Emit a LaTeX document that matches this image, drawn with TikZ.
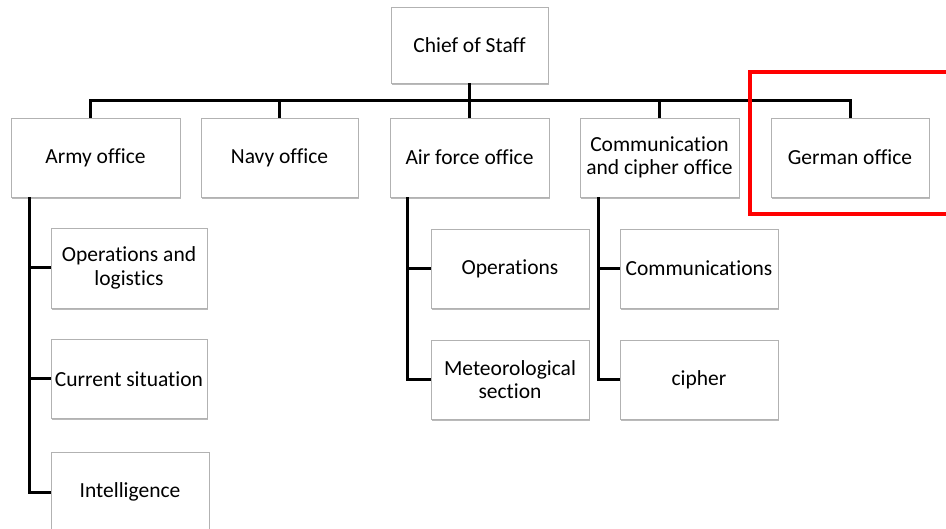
\documentclass[tikz,border=0pt]{standalone}
\usepackage{fontspec}
\setmainfont{Carlito}[Ligatures=NoCommon]
\usetikzlibrary{shadows}
\begin{document}
\begin{tikzpicture}[x=1pt,y=-1pt,
  box/.style={draw=black!30, line width=0.8pt, fill=white, minimum width=158pt,
    minimum height=79pt, align=center, inner sep=1pt, font=\fontsize{21.5}{23.5}\selectfont,
    drop shadow={shadow xshift=1.2pt, shadow yshift=-2pt, fill=black!60, opacity=0.45}},
  conn/.style={line width=3pt, black},
  highlight/.style={draw=red, line width=4pt}]
\useasboundingbox (0,0) rectangle (946,529);
% top level
\node[box, minimum width=157pt, minimum height=76pt] (chief) at (469.5,45) {Chief of Staff};
\node[box, minimum width=169pt] (army) at (95.5,157.5) {Army office};
\node[box, minimum width=157pt] (navy) at (279.5,157.5) {Navy office};
\node[box, minimum width=159pt] (air) at (469.5,157.5) {Air force office};
\node[box, minimum width=159pt] (comm) at (659.5,157.5) {Communication\\and cipher office};
\node[box] (german) at (850,157.5) {German office};
% army children
\node[box, minimum width=156pt, minimum height=80pt] (opslog) at (129,268) {Operations and\\logistics};
\node[box, minimum width=156pt] (current) at (129,379) {Current situation};
\node[box, minimum height=80pt] (intel) at (130,492) {Intelligence};
% air children
\node[box] (ops) at (510,268.5) {Operations};
\node[box] (meteo) at (510,379.5) {Meteorological\\section};
% comm children
\node[box] (comms) at (699,268.5) {Communications};
\node[box] (cipher) at (699,379.5) {cipher};
% connector helpers
\coordinate (bar) at (0,101);
\coordinate (aspine) at (29,0);
\coordinate (fspine) at (407,0);
\coordinate (cspine) at (598,0);
\coordinate (armytop) at ([xshift=-5.5pt]army.north);
% connectors
\draw[conn] (chief.south) -- (chief.south |- bar);
\draw[conn] (armytop) -- (armytop |- bar) -- (german.north |- bar) -- (german.north);
\draw[conn] (navy.north |- bar) -- (navy.north);
\draw[conn] (air.north |- bar) -- (air.north);
\draw[conn] (comm.north |- bar) -- (comm.north);
\draw[conn] (army.south -| aspine) |- (intel.west);
\draw[conn] (opslog.west -| aspine) -- (opslog.west);
\draw[conn] (current.west -| aspine) -- (current.west);
\draw[conn] (air.south -| fspine) |- (meteo.west);
\draw[conn] (ops.west -| fspine) -- (ops.west);
\draw[conn] (comm.south -| cspine) |- (cipher.west);
\draw[conn] (comms.west -| cspine) -- (comms.west);
% highlight around German office
\draw[highlight] (750,72) rectangle (960,214);
\end{tikzpicture}
\end{document}
